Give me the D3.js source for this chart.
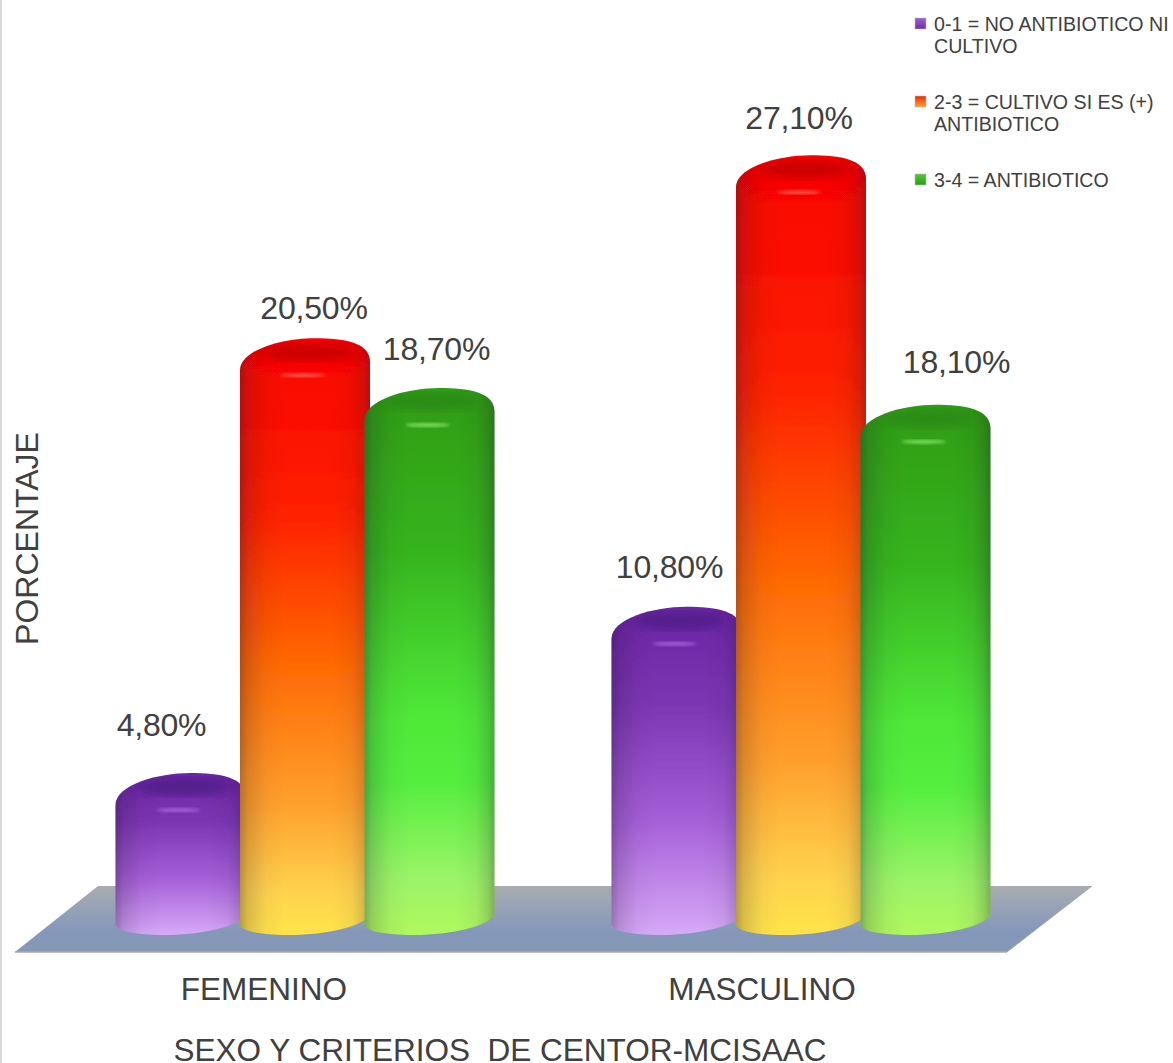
<!DOCTYPE html>
<html><head><meta charset="utf-8">
<script src="https://cdnjs.cloudflare.com/ajax/libs/d3/7.8.5/d3.min.js"></script>
<style>html,body{margin:0;padding:0;background:#fff;overflow:hidden}svg{display:block}text{font-family:"Liberation Sans",Arial,sans-serif;fill:#404040}</style>
</head><body><svg id="c" width="1173" height="1063"></svg>
<script>
const categories = ["FEMENINO","MASCULINO"];
const seriesNames = ["0-1 = NO ANTIBIOTICO NI|CULTIVO","2-3 = CULTIVO SI ES (+)|ANTIBIOTICO","3-4 = ANTIBIOTICO"];
const valuesCriterio01 = [4.8,10.8];
const valuesCriterio23 = [20.5,27.1];
const valuesCriterio34 = [18.7,18.1];
const labelsCriterio01 = ["4,80%","10,80%"];
const labelsCriterio23 = ["20,50%","27,10%"];
const labelsCriterio34 = ["18,70%","18,10%"];
const seriesValues=[valuesCriterio01,valuesCriterio23,valuesCriterio34];
const seriesLabels=[labelsCriterio01,labelsCriterio23,labelsCriterio34];
const ramps=[
 [[0,"#6a24a4"],[0.3,"#7c36b2"],[0.65,"#a55fd8"],[0.9,"#c993ee"],[1,"#d6aaf8"]],
 [[0,"#f80000"],[0.3,"#ff2200"],[0.55,"#ff6a04"],[0.78,"#ffa02c"],[0.93,"#ffd44e"],[1,"#ffe44a"]],
 [[0,"#2f9c14"],[0.3,"#36b41e"],[0.6,"#4fe838"],[0.72,"#54ee3e"],[0.9,"#9cf468"],[1,"#b0f85e"]]];
const capFill=["#4a1a80","#b80606","#2a8414"], capHi=["#b070e0","#ff7060","#90f070"];
const legendSwatch=[["#9a5fd0","#6c30a6"],["#ee2a00","#ffa030"],["#4ecb38","#2f9a1c"]];
// label placement relative to bar centre and bar top
const nudgeX=[[-19,-7],[9,-2],[7,31]], nudgeY=[[37,29],[19,26],[28,32]];

const svg=d3.select("#c"), defs=svg.append("defs");
const y=d3.scaleLinear().domain([0,30]).range([923,92]);
const catCenter=c=>({FEMENINO:305,MASCULINO:801})[c];
const step=124.5, barW=130;
const x1=d3.scaleBand().domain(d3.range(3)).range([-1.5*step,1.5*step]);

svg.append("rect").attr("x",0).attr("y",0).attr("width",2).attr("height",1063).attr("fill","#d9d9d9");

const floorGrad=defs.append("linearGradient").attr("id","floor").attr("x1",0).attr("x2",0).attr("y1",0).attr("y2",1);
[[0,"#a9acb0"],[0.3,"#98a3b6"],[0.7,"#8497ba"],[1,"#8698b6"]].forEach(s=>floorGrad.append("stop").attr("offset",s[0]).attr("stop-color",s[1]));
const line=d3.line();
const floorTop=y(0)-37, floorBot=y(0)+29;
svg.append("path").attr("d",line([[15,floorBot],[1007,floorBot],[1092,floorTop],[98,floorTop]])+"Z").attr("fill","url(#floor)");
svg.append("path").attr("d",line([[15,floorBot],[1007,floorBot]])).attr("stroke","#a8a8a8").attr("stroke-width",1.5);
svg.append("path").attr("d",line([[1007,floorBot],[1092,floorTop]])).attr("stroke","#a8a8a8").attr("stroke-width",1);

ramps.forEach((r,i)=>{const g=defs.append("linearGradient").attr("id","g"+i).attr("x1",0).attr("x2",0).attr("y1",0).attr("y2",1);
 r.forEach(s=>g.append("stop").attr("offset",s[0]).attr("stop-color",s[1]));});
const shade=defs.append("linearGradient").attr("id","shade");
[[0,0.32],[0.06,0.17],[0.2,0.04],[0.35,0],[0.7,0],[0.86,0.05],[0.95,0.17],[1,0.3]].forEach(s=>shade.append("stop").attr("offset",s[0]).attr("stop-color","#201030").attr("stop-opacity",s[1]));
defs.append("filter").attr("id","soft").append("feGaussianBlur").attr("stdDeviation",0.7);
defs.append("filter").attr("id","soft2").append("feGaussianBlur").attr("stdDeviation",1.4);
defs.append("filter").attr("id","soft3").append("feGaussianBlur").attr("stdDeviation",5);

function body(cx,top,base){
 const w=barW/2, p=d3.path(), yT=y(top)-17, yB=base;
 p.moveTo(cx-w,yT+32);
 p.bezierCurveTo(cx-w,yT+12,cx-w*0.35,yT,cx+w*0.15,yT);
 p.bezierCurveTo(cx+w*0.6,yT,cx+w,yT+4,cx+w,yT+24);
 p.lineTo(cx+w,yB-9);
 p.bezierCurveTo(cx+w*0.92,yB+3,cx+w*0.35,yB+12,cx-w*0.25,yB+12);
 p.bezierCurveTo(cx-w*0.7,yB+12,cx-w,yB+8,cx-w,yB+1);
 p.closePath();
 return p.toString();
}
seriesValues.forEach((vals,i)=>{
 categories.forEach((c,j)=>{
  const v=vals[j], cx=catCenter(c)+x1(i)+x1.bandwidth()/2;
  const g=svg.append("g").attr("filter","url(#soft)");
  const d=body(cx,v,y(0));
  const id="clip"+i+"_"+j;
  defs.append("clipPath").attr("id",id).append("path").attr("d",d);
  g.append("path").attr("d",d).attr("fill",`url(#g${i})`);
  g.append("path").attr("d",d).attr("fill","url(#shade)");
  const cap=svg.append("g").attr("clip-path",`url(#${id})`);
  cap.append("ellipse").attr("cx",cx+3).attr("cy",y(v)-3).attr("rx",barW*0.36).attr("ry",9).attr("fill",capFill[i]).attr("opacity",0.7).attr("filter","url(#soft3)");
  cap.append("ellipse").attr("cx",cx-2).attr("cy",y(v)+20).attr("rx",barW*0.17).attr("ry",2).attr("fill",capHi[i]).attr("opacity",0.75).attr("filter","url(#soft2)");
  svg.append("text").attr("x",cx+nudgeX[i][j]).attr("y",y(v)-17-nudgeY[i][j]).attr("text-anchor","middle").attr("font-size",32).attr("letter-spacing",-0.2).text(seriesLabels[i][j]);
 });
});

categories.forEach(c=>svg.append("text").attr("x",catCenter(c)-(c==="FEMENINO"?41:39)).attr("y",1000).attr("text-anchor","middle").attr("font-size",31.5).text(c));
svg.append("text").attr("x",500).attr("y",1061).attr("text-anchor","middle").attr("font-size",31.5).style("white-space","pre").text("SEXO Y CRITERIOS  DE CENTOR-MCISAAC");
svg.append("text").attr("transform","translate(38,538.5) rotate(-90)").attr("text-anchor","middle").attr("font-size",32).text("PORCENTAJE");

const legendY=[31,109,187];
legendSwatch.forEach((s,i)=>{const g=defs.append("linearGradient").attr("id","l"+i).attr("x1",0).attr("x2",0).attr("y1",0).attr("y2",1);
 g.append("stop").attr("offset",0).attr("stop-color",s[0]);g.append("stop").attr("offset",1).attr("stop-color",s[1]);});
seriesNames.forEach((n,i)=>{
 svg.append("rect").attr("x",915).attr("y",legendY[i]-13).attr("width",11).attr("height",11).attr("fill",`url(#l${i})`).attr("stroke","#bbb").attr("stroke-width",0.6);
 n.split("|").forEach((t,k)=>svg.append("text").attr("x",934).attr("y",legendY[i]+k*22).attr("font-size",19.6).text(t));
});
</script></body></html>
